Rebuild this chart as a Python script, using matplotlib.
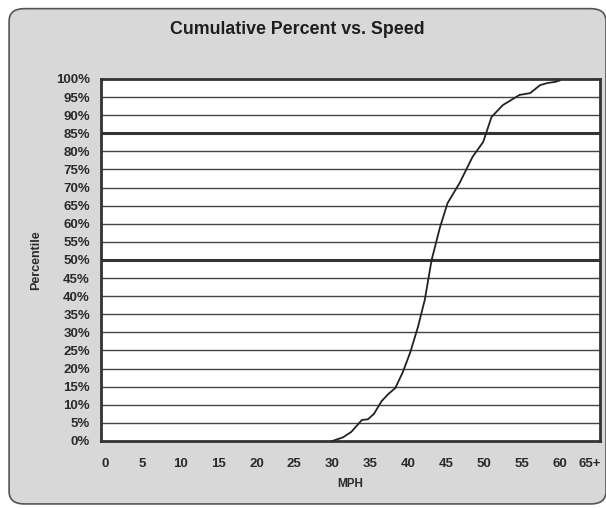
import matplotlib.pyplot as plt
from matplotlib.patches import FancyBboxPatch
from matplotlib.ticker import FixedLocator

# cumulative speed distribution
mph = [30, 31.4, 32.5, 33.9, 34.7, 35.5, 36.5, 37.4, 38.3, 39.3, 40.3, 41.3, 42.2,
       43.1, 44.2, 45.2, 46.8, 48.5, 49.9, 51, 52.5, 54.7, 56.1, 57.4, 58.4, 59.4, 60]
pct = [0, 1, 2.5, 5.8, 6, 7.5, 11, 13, 14.6, 19, 24.6, 31.5, 39,
       50, 59, 65.7, 71.3, 78.5, 82.6, 89.5, 92.8, 95.6, 96.1, 98.3, 98.9, 99.2, 99.6]

x_ticks = [0, 5, 10, 15, 20, 25, 30, 35, 40, 45, 50, 55, 60, 64]
x_labels = ["0", "5", "10", "15", "20", "25", "30", "35", "40", "45", "50", "55", "60", "65+"]
y_ticks = list(range(0, 101, 5))
heavy_lines = [50, 85]

plt.rcParams['font.family'] = ['Liberation Sans', 'DejaVu Sans']
txt = "#2a2a2a"

fig = plt.figure(figsize=(6.06, 5.08), dpi=100)
fig.patch.set_facecolor("white")
frame = FancyBboxPatch((0.015, 0.008), 0.985, 0.975, boxstyle="round,pad=0,rounding_size=0.025",
                       transform=fig.transFigure, facecolor="#d8d8d8", edgecolor="#555555",
                       linewidth=1.2, zorder=-1)
fig.patches.append(frame)

ax = fig.add_axes([0.1667, 0.1319, 0.8233, 0.7126])
ax.set_facecolor("white")

for y in y_ticks:
    if y in heavy_lines:
        ax.axhline(y, color="#333333", linewidth=2.2, zorder=1)
    elif y not in (0, 100):
        ax.axhline(y, color="#444444", linewidth=1.0, zorder=1)

ax.plot(mph, pct, color="#222222", linewidth=1.3, zorder=3)

ax.set_xlim(-0.5, 65.3)
ax.set_ylim(0, 100)
ax.xaxis.set_major_locator(FixedLocator(x_ticks))
ax.set_xticklabels(x_labels)
ax.yaxis.set_major_locator(FixedLocator(y_ticks))
ax.set_yticklabels([f"{v}%" for v in y_ticks])
ax.tick_params(length=0, labelsize=9.5, colors=txt)
ax.tick_params(axis="x", pad=12)
ax.tick_params(axis="y", pad=8)
for lab in ax.get_xticklabels() + ax.get_yticklabels():
    lab.set_fontweight("bold")
for s in ax.spines.values():
    s.set_linewidth(2.0)
    s.set_color("#333333")

ax.set_xlabel("MPH", fontsize=8.5, fontweight="bold", color=txt, labelpad=6)
ax.set_ylabel("Percentile", fontsize=9, fontweight="bold", color=txt, labelpad=10)
fig.text(0.49, 0.941, "Cumulative Percent vs. Speed", ha="center", va="center",
         fontsize=12.8, fontweight="bold", color="#1e1e1e")

fig.savefig("out.png", dpi=100)
